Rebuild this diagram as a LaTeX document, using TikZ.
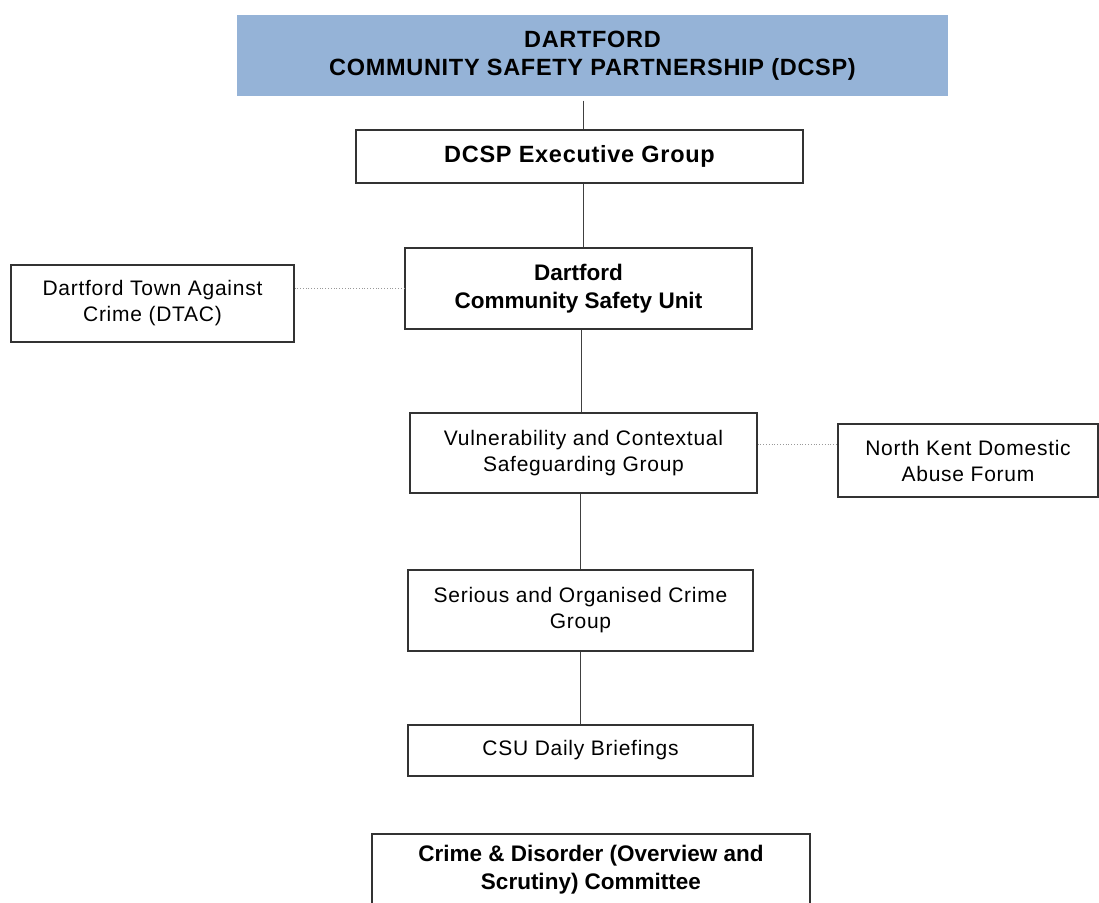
\documentclass[tikz,border=0pt]{standalone}
\usepackage{fontspec}
\setmainfont{Liberation Sans}
\definecolor{headblue}{HTML}{95B3D7}
\begin{document}
\begin{tikzpicture}[x=1pt, y=-1pt,
    box/.style={draw=black!80, line width=1.2pt, fill=white, align=center,
      inner sep=0pt, font=\fontsize{21}{26}\selectfont\addfontfeature{LetterSpace=3.5}},
    boldbox/.style={box, font=\fontsize{22.5}{28}\selectfont\bfseries},
    bigbox/.style={box, font=\fontsize{23.5}{28}\selectfont\bfseries\addfontfeature{LetterSpace=3}},
    link/.style={draw=black!75, line width=1pt},
    side/.style={draw=black!40, dotted, line width=0.8pt}]
  \useasboundingbox (0,0) rectangle (1099,902);

  \node[bigbox, draw=none, fill=headblue, minimum width=711, minimum height=81]
    (dcsp) at (592.5,55.5) {DARTFORD\\COMMUNITY SAFETY PARTNERSHIP (DCSP)};
  \node[bigbox, minimum width=447, minimum height=53] (exec) at (579.5,156.5)
    {DCSP Executive Group};
  \node[boldbox, minimum width=347, minimum height=81] (csu) at (578.5,288.5)
    {Dartford\\Community Safety Unit};
  \node[box, minimum width=283, minimum height=77] (dtac) at (152.5,303.5)
    {Dartford Town Against\\Crime (DTAC)};
  \node[box, minimum width=347, minimum height=80] (vcsg) at (583.5,453)
    {Vulnerability and Contextual\\Safeguarding Group};
  \node[box, minimum width=260, minimum height=73] (nkdaf) at (968,460.5)
    {North Kent Domestic\\Abuse Forum};
  \node[box, minimum width=345, minimum height=81] (socg) at (580.5,610.5)
    {Serious and Organised Crime\\Group};
  \node[box, minimum width=345, minimum height=51] (brief) at (580.5,750.5)
    {CSU Daily Briefings};
  \node[boldbox, minimum width=438, minimum height=72] (cdc) at (591,870)
    {Crime \& Disorder (Overview and\\Scrutiny) Committee};

  % main chain
  \draw[link] ([xshift=3.5pt, yshift=-4pt]dcsp.south -| exec.north) -- ([xshift=3.5pt]exec.north);
  \draw[link] ([xshift=3.5pt]exec.south) -- ([xshift=3.5pt]exec.south |- csu.north);
  \draw[link] ([xshift=2.5pt]csu.south) -- ([xshift=2.5pt]csu.south |- vcsg.north);
  \draw[link] (socg.north |- vcsg.south) -- (socg.north);
  \draw[link] (socg.south) -- (brief.north);

  % side links
  \draw[side] (csu.west) -- (csu.west -| dtac.east);
  \draw[side] ([yshift=9pt]vcsg.east) -- ([yshift=9pt]vcsg.east -| nkdaf.west);
\end{tikzpicture}
\end{document}
